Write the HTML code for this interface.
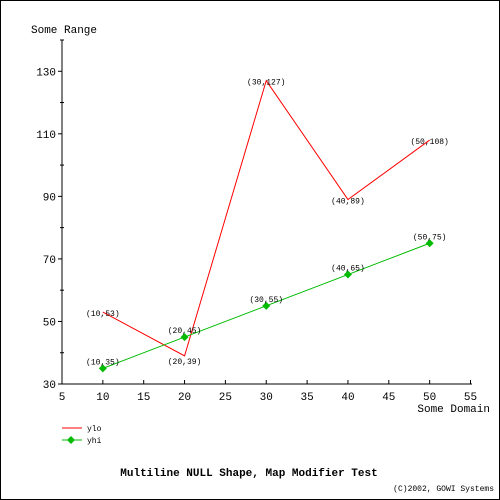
<!DOCTYPE html>
<html><head><meta charset="utf-8"><style>
body{margin:0;background:#fff}
svg{display:block;font-family:"Liberation Mono",monospace}
</style></head><body>
<svg width="500" height="500" id="c">
<rect x="0.5" y="0.5" width="499" height="499" fill="#fff" stroke="#000"/>
<text x="31" y="33" font-size="11">Some Range</text>
<text x="490" y="412" font-size="11" text-anchor="end">Some Domain</text>
<g id="axes"></g>
<g id="series"></g>
<g>
<line x1="62" y1="428" x2="82" y2="428" stroke="#f00"/>
<text x="87" y="431" font-size="8">ylo</text>
<line x1="62" y1="440" x2="82" y2="440" stroke="#0b0"/>
<polygon points="71,436 75,440 71,444 67,440" fill="#0b0"/>
<text x="87" y="443" font-size="8">yhi</text>
</g>
<text x="249" y="476" font-size="11" font-weight="bold" text-anchor="middle">Multiline NULL Shape, Map Modifier Test</text>
<text x="494" y="491" font-size="8" text-anchor="end">(C)2002, GOWI Systems</text>
</svg>
<script>
const xCats=[10,20,30,40,50];
const yloVals=[53,39,127,89,108];
const yhiVals=[35,45,55,65,75];
const xTicks=[5,10,15,20,25,30,35,40,45,50,55];
const yTicks=[30,50,70,90,110,130];
const yMinor=[40,60,80,100,120,140];
const NS="http://www.w3.org/2000/svg";
const X=v=>62+(v-5)*(408.5/50);
const Y=v=>384-(v-30)*(344/110);
function mk(p,t,a){const e=document.createElementNS(NS,t);for(const k in a)e.setAttribute(k,a[k]);p.appendChild(e);return e;}
const ax=document.getElementById('axes'),sg=document.getElementById('series');
let e=mk(ax,'line',{x1:62,y1:40,x2:62,y2:384,stroke:'#000'});


e=mk(ax,'line',{x1:62,y1:384,x2:472,y2:384,stroke:'#000'});


yTicks.forEach(v=>{
 e=mk(ax,'line',{x1:58,y1:Y(v),x2:62,y2:Y(v),stroke:'#000'});
 
 
 e=mk(ax,'text',{x:56,y:Y(v)+4,'font-size':11,'text-anchor':'end'});e.textContent=v;
 
 
});
yMinor.forEach(v=>{
 e=mk(ax,'line',{x1:60,y1:Y(v),x2:64,y2:Y(v),stroke:'#000'});
 
 
});
xTicks.forEach(v=>{
 e=mk(ax,'line',{x1:X(v),y1:380,x2:X(v),y2:384,stroke:'#000'});
 
 
 e=mk(ax,'text',{x:X(v),y:400,'font-size':11,'text-anchor':'middle'});e.textContent=v;
 
 
});
function series(vals,col,name,marker){
 e=mk(sg,'polyline',{points:xCats.map((x,i)=>X(x)+','+Y(vals[i])).join(' '),fill:'none',stroke:col});
 
 
 xCats.forEach((x,i)=>{
  const px=X(x),py=Y(vals[i]);
  if(marker){
   e=mk(sg,'polygon',{points:`${px},${py-4} ${px+4},${py} ${px},${py+4} ${px-4},${py}`,fill:col});
   
   
  }
  const dy=(name==='ylo'&&i===1)?8:(marker?-4:4);
  e=mk(sg,'text',{x:px,y:py+dy,'font-size':8,'text-anchor':'middle'});
  e.textContent='('+x+','+vals[i]+')';
  
  
 });
}
series(yloVals,'#f00','ylo',false);
series(yhiVals,'#0b0','yhi',true);
</script>
</body></html>
